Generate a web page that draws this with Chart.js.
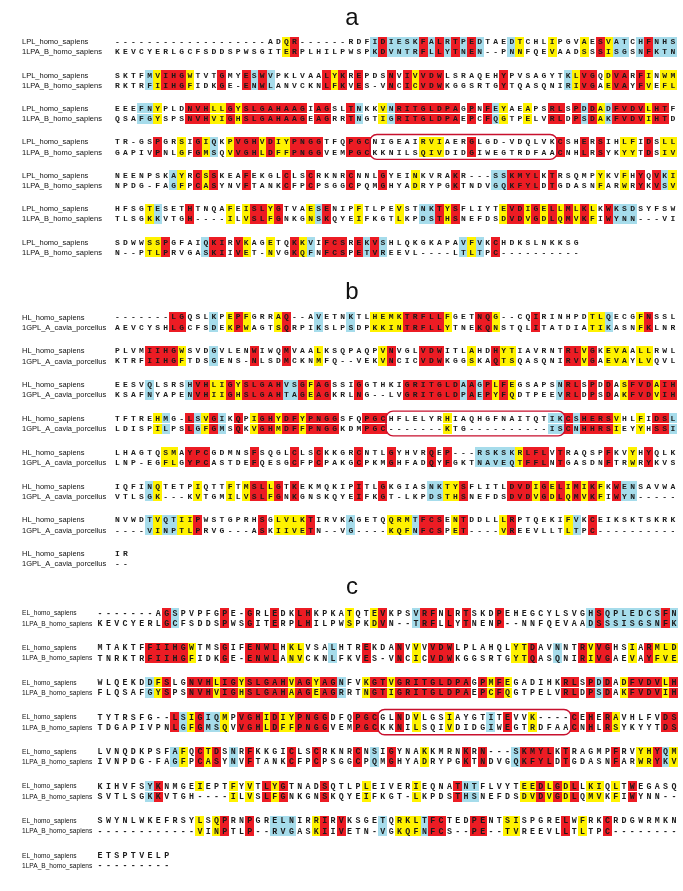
<!DOCTYPE html>
<html><head><meta charset="utf-8">
<script src="https://cdn.jsdelivr.net/npm/chart.js@4.4.1/dist/chart.umd.min.js"></script>
<style>html,body{margin:0;padding:0;background:#fff;}canvas{display:block;}</style>
</head><body><canvas id="c" width="683" height="891"></canvas>
<script>
// ---------------- DATA ----------------
const panelLabels = ['a', 'b', 'c'];
const namesA = ['LPL_homo_sapiens', '1LPA_B_homo_sapiens'];
const namesB = ['HL_homo_sapiens', '1GPL_A_cavia_porcellus'];
const namesC = ['EL_homo_sapiens', '1LPA_B_homo_sapiens'];

const seqA1 = [
"-------------------ADQR------RDFIDIESKFALRTPEDTAEDTCHLIPGVAESVATCHFNHS",
"SKTFMVIHGWTVTGMYESWVPKLVAALYKREPDSNVIVVDWLSRAQEHYPVSAGYTKLVGQDVARFINWM",
"EEEFNYPLDNVHLLGYSLGAHAAGIAGSLTNKKVNRITGLDPAGPNFEYAEAPSRLSPDDADFVDVLHTF",
"TR-GSPGRSIGIQKPVGHVDIYPNGGTFQPGCNIGEAIRVIAERGLGD-VDQLVKCSHERSIHLFIDSLL",
"NEENPSKAYRCSSKEAFEKGLCLSCRKNRCNNLGYEINKVRAKR---SSKMYLKTRSQMPYKVFHYQVKI",
"HFSGTESETHTNQAFEISLYGTVAESENIPFTLPEVSTNKTYSFLIYTEVDIGELLMLKLKWKSDSYFSW",
"SDWWSSPGFAIQKIRVKAGETQKKVIFCSREKVSHLQKGKAPAVFVKCHDKSLNKKSG"];
const seqA2 = [
"KEVCYERLGCFSDDSPWSGITERPLHILPWSPKDVNTRFLLYTNEN--PNNFQEVAADSSSISGSNFKTN",
"RKTRFIIHGFIDKGE-ENWLANVCKNLFKVES-VNCICVDWKGGSRTGYTQASQNIRIVGAEVAYFVEFL",
"QSAFGYSPSNVHVIGHSLGAHAAGEAGRRTNGTIGRITGLDPAEPCFQGTPELVRLDPSDAKFVDVIHTD",
"GAPIVPNLGFGMSQVVGHLDFFPNGGVEMPGCKKNILSQIVDIDGIWEGTRDFAACNHLRSYKYYTDSIV",
"NPDG-FAGFPCASYNVFTANKCFPCPSGGCPQMGHYADRYPGKTNDVGQKFYLDTGDASNFARWRYKVSV",
"TLSGKKVTGH----ILVSLFGNKGNSKQYEIFKGTLKPDSTHSNEFDSDVDVGDLQMVKFIWYNN---VI",
"N--PTLPRVGASKIIVET-NVGKQFNFCSPETVREEVL----LTLTPC----------"];
// shading per column: r = red, y = yellow, b = light blue, . = none
const shadeA = [
".......... .......... .yr....... ..brbbbbrb rbrbrb...b y...y...y. rybb.brbbb",
"....byrrry ...r..rbrb ......ryr. r...r.ryrr r.......r. ......byrr .yrr.ry.yy",
"...bby...r rryyryrrrr rrrr.rr..r b..ybrrrrr rrr.r.rby. .y..rr.rbr ybrrrryrr.",
".....r..y. ryb.yrrryr yyrrrr...r rr......yy y...r..... .....r..r. r..yy.r.yy",
".......by. ryr...r... .r..r....r ...r...y.. ..r....bbr rrr.r..... y..y.r.rby",
"....yb...r ....y.yrry r...ybr... y....y..bb ryr.....yr ryryryryry .rbbb.....",
"....yyr... .brr.ry..y ..ryb.rrr. rbrb...... ...byb.r.. ........"];

const seqB1 = [
"-------LGQSLKPEPFGRRAQ--AVETNKTLHEMKTRFLLFGETNQG--CQIRINHPDTLQECGFNSSL",
"PLVMIIHGWSVDGVLENWIWQMVAALKSQPAQPVNVGLVDWITLAHDHYTIAVRNTRLVGKEVAALLRWL",
"EESVQLSRSHVHLIGYSLGAHVSGFAGSSIGGTHKIGRITGLDAAGPLFEGSAPSNRLSPDDASFVDAIH",
"TFTREHMG-LSVGIKQPIGHYDFYPNGGSFQPGCHFLELYRHIAQHGFNAITQTIKCSHERSVHLFIDSL",
"LHAGTQSMAYPCGDMNSFSQGLCLSCKKGRCNTLGYHVRQEP---RSKSKRLFLVTRAQSPFKVYHYQLK",
"IQFINQTETPIQTTFTMSLLGTKEKMQKIPITLGKGIASNKTYSFLITLDVDIGELIMIKFKWENSAVWA",
"NVWDTVQTIIPWSTGPRHSGLVLKTIRVKAGETQQRMTFCSENTDDLLLRPTQEKIFVKCEIKSKTSKRK",
"IR"];
const seqB2 = [
"AEVCYSHLGCFSDEKPWAGTSQRPIKSLPSDPKKINTRFLLYTNEKQNSTQLITATDIATIKASNFKLNR",
"KTRFIIHGFTDSGENS-NLSDMCKNMFQ--VEKVNCICVDWKGGSKAQTSQASQNIRVVGAEVAYLVQVL",
"KSAFNYAPENVHIIGHSLGAHTAGEAGKRLNG--LVGRITGLDPAEPYFQDTPEEVRLDPSDAKFVDVIH",
"LDISPILPSLGFGMSQKVGHMDFFPNGGKDMPGC-------KTG----------ISCNHHRSIEYYHSSI",
"LNP-EGFLGYPCASTDEFQESGCFPCPAKGCPKMGHFADQYFGKTNAVEQTFFLNTGASDNFTRWRYKVS",
"VTLSGK---KVTGMILVSLFGNKGNSKQYEIFKGT-LKPDSTHSNEFDSDVDVGDLQMVKFIWYN-----",
"----VINPTLPRVG---ASKIIVETN--VG----KQFNFCSPET----VREEVLLTLTPC----------",
"--"];
const shadeB = [
".......rr. ..b.yry... yr...b...b ..yyyyrrrr ry...rry.. ..r......y yb...yr...",
"....rrrry. ..b....r.. .r...y.... ...yr...rr r...y..ryy ......rryr .yyy.yy...",
"....b....b rryyryrrrr rbbryrr... r.....rrrr rrrbrbryry .....brr.r .r.yrrryrr",
".....yb..r byrb.r.yrr yrryrrrr.. .rrr...... .y........ ....bbrbrr rry..y.rrb",
"......yy.r rr.....r.. ..r..r.... r...r....r .r...bbbbb yrrr.r.... .r..y.r...",
"....by.... y...y.yrry r.r....... r..r.....b byyr.....r rryryryryr y.rbb.....",
"....bybbyy r.......r. yyyyr....b ....yyybrr r.yr....yr ......yb.r ..........",
".."];

const seqC1 = [
"-------AGSPVPFGPE-GRLEDKLHKPKATQTEVKPSVRFNLRTSKDPEHEGCYLSVGHSQPLEDCSFN",
"MTAKTFFIIHGWTMSGIFENWLHKLVSALHTREKDANVVVVDWLPLAHQLYTDAVNNTRVVGHSIARMLD",
"WLQEKDDFSLGNVHLIGYSLGAHVAGYAGNFVKGTVGRITGLDPAGPMFEGADIHKRLSPDDADFVDVLH",
"TYTRSFG--LSIGIQMPVGHIDIYPNGGDFQPGCGLNDVLGSIAYGTITEVVK----CEHERAVHLFVDS",
"LVNQDKPSFAFQCTDSNRFKKGICLSCRKNRCNSIGYNAKKMRNKRN---SKMYLKTRAGMPFRVYHYQM",
"KIHVFSYKNMGEIEPTFYVTLYGTNADSQTLPLEIVERIEQNATNTFLVYTEEDLGDLLKIQLTWEGASQ",
"SWYNLWKEFRSYLSQPRNPGRELNIRRIRVKSGETQRKLTFCTEDPENTSISPGRELWFRKCRDGWRMKN",
"ETSPTVELP"];
const seqC2 = [
"KEVCYERLGCFSDDSPWSGITERPLHILPWSPKDVN--TRFLLYTNENP--NNFQEVAADSSSISGSNFK",
"TNRKTRFIIHGFIDKGE-ENWLANVCKNLFKVES-VNCICVDWKGGSRTGYTQASQNIRIVGAEVAYFVE",
"FLQSAFGYSPSNVHVIGHSLGAHAAGEAGRRTNGTIGRITGLDPAEPCFQGTPELVRLDPSDAKFVDVIH",
"TDGAPIVPNLGFGMSQVVGHLDFFPNGGVEMPGCKKNILSQIVDIDGIWEGTRDFAACNHLRSYKYYTDS",
"IVNPDG-FAGFPCASYNVFTANKCFPCPSGGCPQMGHYADRYPGKTNDVGQKFYLDTGDASNFARWRYKV",
"SVTLSGKKVTGH----ILVSLFGNKGNSKQYEIFKGT-LKPDSTHSNEFDSDVDVGDLQMVKFIWYNN--",
"------------VINPTLP--RVGASKIIVETN-VGKQFNFCS--PE--TVREEVLLTLTPC--------",
"---------"];
const shadeC = [
"........rb .....r..r. .r..rr.... y..yr...br r.r.r...r. .........b rbbbbbbbrb",
"......rrrr ry...r..rr rr.yy...b. ..r...r.y. rrr....... yyr..b..ry rr..y.ryyy",
"......byr. .rrryrryrr rrryrryrrb ..yrryrrrr rrrrr.ryry ......rr.r br.yrrrryr",
".........r byrbby.rrr yryyrrrr.. .rrr..r.y. ..y....b.r ..y....r.r .ry.....rr",
".........b y.ryr.b.r. ...r..r... .r.b.r...y ....r.r... brrrr.r... ..r..yyrby",
"......br.. ..y...y.y. ryr....r.. ..y.....y. ...rbb.... .yyryryr.y y.y.r.....",
".......... ..y.yr..r. .bbb..yr.r ....b.yyyb rr...rr..y y.....r.y. .r........",
"........."];

// lid regions outlined by rounded red boxes: [panel, block, firstColumn, lastColumn]
const lidBoxes = [['a', 3, 33, 55], ['b', 3, 35, 56], ['c', 3, 35, 57]];

// ---------------- LAYOUT / STYLE ----------------
const W = 683, H = 891;
const COLORS = { r: '#ec1c24', y: '#fff200', b: '#a6dceb' };
const layout = {
  a: { x0: 114, p: 8.17, y0: 37, rs: 10.3, bs: 33.8, cellH: 9.6, labelY: 14, nameFont: 7.5, seqFont: 8 },
  b: { x0: 114, p: 8.17, y0: 315.5, rs: 10.3, bs: 34.2, cellH: 9.6, labelY: 291, nameFont: 7.5, seqFont: 8 },
  c: { x0: 96.5, p: 8.44, y0: 615, rs: 10.5, bs: 35.0, cellH: 9.8, labelY: 589, nameFont: 6.6, seqFont: 8.3 }
};
const panels = [
  { key: 'a', names: namesA, top: seqA1, bot: seqA2, shade: shadeA },
  { key: 'b', names: namesB, top: seqB1, bot: seqB2, shade: shadeB },
  { key: 'c', names: namesC, top: seqC1, bot: seqC2, shade: shadeC }
];

function cellImage(color, w, h) {
  const cv = document.createElement('canvas');
  cv.width = w; cv.height = h;
  const g = cv.getContext('2d');
  g.fillStyle = color; g.fillRect(0, 0, w, h);
  return cv;
}

const datasets = [];
const scales = {};
panels.forEach(pn => {
  const L = layout[pn.key];
  const stride = L.bs / L.rs;
  pn.stride = stride;
  pn.shadeClean = pn.shade.map(s => s.replace(/ /g, ''));
  const xmin = 1 - L.x0 / L.p;
  scales['x' + pn.key] = { type: 'linear', display: false, min: xmin, max: xmin + W / L.p };
  const ymin = -L.y0 / L.rs;
  scales['y' + pn.key] = { type: 'linear', display: false, reverse: true, min: ymin, max: ymin + H / L.rs };
  ['r', 'y', 'b'].forEach(ch => {
    const pts = [];
    pn.shadeClean.forEach((sh, bi) => {
      [pn.top[bi], pn.bot[bi]].forEach((seq, ri) => {
        for (let i = 0; i < sh.length; i++) {
          if (sh[i] === ch && seq[i] && seq[i] !== '-') pts.push({ x: i + 1, y: bi * stride + ri });
        }
      });
    });
    datasets.push({
      label: pn.key + ch, data: pts, xAxisID: 'x' + pn.key, yAxisID: 'y' + pn.key,
      pointStyle: cellImage(COLORS[ch], Math.ceil(L.p), Math.round(L.cellH)),
      pointRadius: 4, pointHoverRadius: 4, showLine: false
    });
  });
});

const textPlugin = {
  id: 'alignText',
  afterDatasetsDraw(chart) {
    const ctx = chart.ctx;
    ctx.save();
    panels.forEach((pn, pi) => {
      const L = layout[pn.key];
      const xs = chart.scales['x' + pn.key], ys = chart.scales['y' + pn.key];
      ctx.fillStyle = '#111';
      ctx.font = '24px "Liberation Sans", Arial, sans-serif';
      ctx.textAlign = 'center'; ctx.textBaseline = 'middle';
      ctx.fillText(panelLabels[pi], 352, ys.getPixelForValue((L.labelY - L.y0) / L.rs));
      pn.top.forEach((s1, bi) => {
        const rows = [s1, pn.bot[bi]];
        rows.forEach((seq, ri) => {
          const yp = ys.getPixelForValue(bi * pn.stride + ri);
          ctx.font = L.nameFont + 'px "Liberation Sans", Arial, sans-serif';
          ctx.textAlign = 'left'; ctx.fillStyle = '#111';
          ctx.fillText(pn.names[ri], 22, yp + 0.5);
          ctx.font = 'bold ' + L.seqFont + 'px "Liberation Mono", "DejaVu Sans Mono", monospace';
          ctx.textAlign = 'center'; ctx.fillStyle = '#1a1a1a';
          for (let i = 0; i < seq.length; i++) {
            ctx.fillText(seq[i], xs.getPixelForValue(i + 1), yp + 0.5);
          }
        });
      });
    });
    ctx.strokeStyle = '#c8102e'; ctx.lineWidth = 1.4;
    lidBoxes.forEach(([k, bi, c0, c1]) => {
      const pn = panels.find(p => p.key === k);
      const L = layout[k];
      const xs = chart.scales['x' + k], ys = chart.scales['y' + k];
      const xL = xs.getPixelForValue(c0 - 0.5) - 1, xR = xs.getPixelForValue(c1 + 0.5) + 1;
      const yT = ys.getPixelForValue(bi * pn.stride) - L.cellH / 2 - 2.5;
      const yB = ys.getPixelForValue(bi * pn.stride + 1) + L.cellH / 2 + 2.5;
      ctx.beginPath();
      ctx.roundRect(xL, yT, xR - xL, yB - yT, 7);
      ctx.stroke();
    });
    ctx.restore();
  }
};

new Chart(document.getElementById('c'), {
  type: 'scatter',
  data: { datasets },
  options: {
    responsive: false, animation: false, events: [],
    layout: { padding: 0 },
    plugins: { legend: { display: false }, tooltip: { enabled: false } },
    scales
  },
  plugins: [textPlugin]
});
</script>
</body></html>
